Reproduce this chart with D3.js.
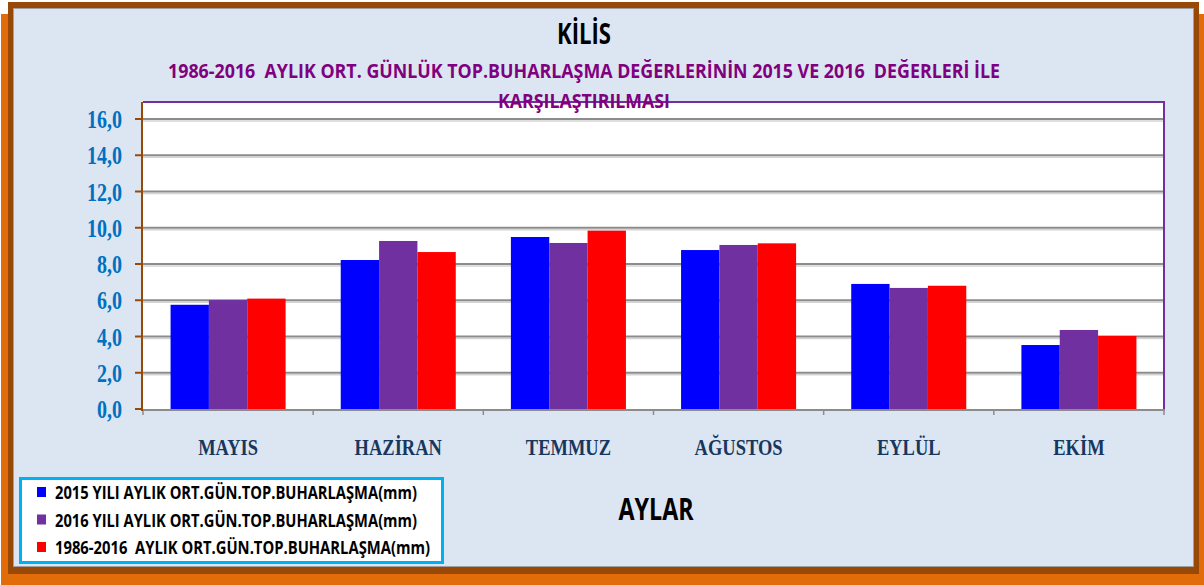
<!DOCTYPE html>
<html>
<head>
<meta charset="utf-8">
<script src="https://cdn.jsdelivr.net/npm/d3@7"></script>
<style>
  html, body { margin: 0; padding: 0; background: #ffffff; }
  svg { display: block; }
</style>
</head>
<body>
<div id="chart"></div>
<script>
// Aylar ve seriler
const months = ['MAYIS', 'HAZİRAN', 'TEMMUZ', 'AĞUSTOS', 'EYLÜL', 'EKİM'];
const seriesNames = [
    '2015 YILI AYLIK ORT.GÜN.TOP.BUHARLAŞMA(mm)',
    '2016 YILI AYLIK ORT.GÜN.TOP.BUHARLAŞMA(mm)',
    '1986-2016  AYLIK ORT.GÜN.TOP.BUHARLAŞMA(mm)'
];
const values2015 = [5.75, 8.22, 9.49, 8.77, 6.90, 3.53];
const values2016 = [6.01, 9.27, 9.16, 9.05, 6.68, 4.36];
const valuesAvg = [6.09, 8.66, 9.84, 9.14, 6.80, 4.03];
const yTicks = [0, 2, 4, 6, 8, 10, 12, 14, 16];
const seriesColors = ['#0000ff', '#7030a0', '#ff0000'];

const width = 1204;
const height = 585;
const plot = {left: 143, right: 1164, top: 102, bottom: 409};

const svg = d3.select('#chart')
    .append('svg')
    .attr('width', width)
    .attr('height', height);

// Çerçeve (turuncu gölge + kahverengi kenar + açık mavi panel)
svg.append('rect')
    .attr('x', 1).attr('y', 14)
    .attr('width', 1203).attr('height', 571)
    .attr('fill', '#e36c0a');
svg.append('rect')
    .attr('x', 8).attr('y', 2)
    .attr('width', 1191).attr('height', 572)
    .attr('fill', '#984807');
svg.append('rect')
    .attr('x', 13.5).attr('y', 8.5)
    .attr('width', 1180).attr('height', 558)
    .attr('fill', '#dce6f2')
    .attr('stroke', '#a0a0a0')
    .attr('stroke-width', 1);

// Çizim alanı
svg.append('rect')
    .attr('x', plot.left).attr('y', plot.top)
    .attr('width', plot.right - plot.left).attr('height', plot.bottom - plot.top)
    .attr('fill', '#ffffff');

const x0 = d3.scaleBand()
    .domain(months)
    .range([plot.left, plot.right])
    .paddingInner(0.324)
    .paddingOuter(0.162);

const x1 = d3.scaleBand()
    .domain([0, 1, 2])
    .range([0, x0.bandwidth()]);

const y = d3.scaleLinear()
    .domain([0, 16])
    .range([plot.bottom, plot.bottom - 290]);

// Izgara çizgileri
yTicks.filter(t => t > 0).forEach(t => {
    svg.append('line')
        .attr('x1', plot.left).attr('x2', plot.right)
        .attr('y1', y(t) + 2).attr('y2', y(t) + 2)
        .attr('stroke', '#d4d4d4')
        .attr('stroke-width', 1.5);
    svg.append('line')
        .attr('x1', plot.left).attr('x2', plot.right)
        .attr('y1', y(t)).attr('y2', y(t))
        .attr('stroke', '#8c8c8c')
        .attr('stroke-width', 2);
});

// Sütunlar
const allSeries = [values2015, values2016, valuesAvg];
months.forEach((m, i) => {
    const g = svg.append('g')
        .attr('transform', `translate(${x0(m)},0)`);
    allSeries.forEach((vals, s) => {
        g.append('rect')
            .attr('x', x1(s))
            .attr('y', y(vals[i]))
            .attr('width', x1.bandwidth())
            .attr('height', y(0) - y(vals[i]))
            .attr('fill', seriesColors[s]);
    });
});

// Çizim alanı kenarı (üst ve sağ mor)
svg.append('line')
    .attr('x1', plot.left).attr('x2', plot.right + 1)
    .attr('y1', plot.top).attr('y2', plot.top)
    .attr('stroke', '#7030a0').attr('stroke-width', 2);
svg.append('line')
    .attr('x1', plot.right).attr('x2', plot.right)
    .attr('y1', plot.top).attr('y2', plot.bottom)
    .attr('stroke', '#7030a0').attr('stroke-width', 2);

// X ekseni
svg.append('line')
    .attr('x1', plot.left).attr('x2', plot.right + 1)
    .attr('y1', plot.bottom + 1).attr('y2', plot.bottom + 1)
    .attr('stroke', '#8c8c8c').attr('stroke-width', 2);
const boundaries = months.map(m => x0(m) - x0.step() * 0.162)
    .concat([plot.right]);
boundaries.forEach(b => {
    svg.append('line')
        .attr('x1', b).attr('x2', b)
        .attr('y1', plot.bottom).attr('y2', plot.bottom + 6)
        .attr('stroke', '#8c8c8c').attr('stroke-width', 1.5);
});

// Y ekseni
svg.append('line')
    .attr('x1', plot.left - 1).attr('x2', plot.left - 1)
    .attr('y1', plot.top).attr('y2', plot.bottom + 2)
    .attr('stroke', '#984807').attr('stroke-width', 2);
yTicks.forEach(t => {
    svg.append('line')
        .attr('x1', plot.left - 8).attr('x2', plot.left - 1)
        .attr('y1', y(t)).attr('y2', y(t))
        .attr('stroke', '#984807').attr('stroke-width', 2);
});

// Sıkıştırılmış yazı için yardımcı
function squeeze(sel, factor) {
    sel.each(function() {
        const w = this.getComputedTextLength();
        d3.select(this)
            .attr('textLength', w * factor)
            .attr('lengthAdjust', 'spacingAndGlyphs');
    });
}

const yLabels = svg.selectAll('text.ylab')
    .data(yTicks)
    .enter()
    .append('text')
    .attr('class', 'ylab')
    .attr('x', 122)
    .attr('y', d => y(d) + 9)
    .attr('text-anchor', 'end')
    .attr('fill', '#0070c0')
    .style('font-family', '"Liberation Serif", "DejaVu Serif", serif')
    .style('font-weight', 'bold')
    .style('font-size', '26px')
    .text(d => d3.format('.1f')(d).replace('.', ','));
squeeze(yLabels, 0.77);

const xLabels = svg.selectAll('text.xlab')
    .data(months)
    .enter()
    .append('text')
    .attr('class', 'xlab')
    .attr('x', d => x0(d) + x0.bandwidth() / 2)
    .attr('y', 455)
    .attr('text-anchor', 'middle')
    .attr('fill', '#17375e')
    .style('font-family', '"Liberation Serif", "DejaVu Serif", serif')
    .style('font-weight', 'bold')
    .style('font-size', '24px')
    .text(d => d);
squeeze(xLabels, 0.77);

// Başlıklar
const sansFont = '"Liberation Sans Narrow", "Open Sans", "Liberation Sans", sans-serif';

svg.append('text')
    .attr('x', 584).attr('y', 44)
    .attr('text-anchor', 'middle')
    .attr('fill', '#000000')
    .attr('textLength', 54)
    .attr('lengthAdjust', 'spacingAndGlyphs')
    .style('font-family', sansFont)
    .style('font-weight', 'bold')
    .style('font-size', '29px')
    .text('KİLİS');

svg.append('text')
    .attr('x', 168).attr('y', 78)
    .attr('fill', '#800080')
    .attr('textLength', 832)
    .attr('lengthAdjust', 'spacingAndGlyphs')
    .style('font-family', sansFont)
    .style('font-weight', 'bold')
    .style('font-size', '20px')
    .style('white-space', 'pre')
    .text('1986-2016  AYLIK ORT. GÜNLÜK TOP.BUHARLAŞMA DEĞERLERİNİN 2015 VE 2016  DEĞERLERİ İLE');

svg.append('text')
    .attr('x', 584).attr('y', 108)
    .attr('text-anchor', 'middle')
    .attr('fill', '#800080')
    .attr('textLength', 172)
    .attr('lengthAdjust', 'spacingAndGlyphs')
    .style('font-family', sansFont)
    .style('font-weight', 'bold')
    .style('font-size', '20px')
    .text('KARŞILAŞTIRILMASI');

svg.append('text')
    .attr('x', 656).attr('y', 520)
    .attr('text-anchor', 'middle')
    .attr('fill', '#000000')
    .attr('textLength', 75)
    .attr('lengthAdjust', 'spacingAndGlyphs')
    .style('font-family', sansFont)
    .style('font-weight', 'bold')
    .style('font-size', '31px')
    .text('AYLAR');

// Lejant
svg.append('rect')
    .attr('x', 20.5).attr('y', 478.5)
    .attr('width', 422).attr('height', 84)
    .attr('fill', '#ffffff')
    .attr('stroke', '#00b0f0')
    .attr('stroke-width', 3);

const legendWidths = [362, 362, 375];
seriesNames.forEach((name, i) => {
    const base = 499 + i * 27.5;
    svg.append('rect')
        .attr('x', 37).attr('y', base - 12)
        .attr('width', 9).attr('height', 10)
        .attr('fill', seriesColors[i]);
    svg.append('text')
        .attr('x', 55).attr('y', base)
        .attr('fill', '#000000')
        .attr('textLength', legendWidths[i])
        .attr('lengthAdjust', 'spacingAndGlyphs')
        .style('font-family', sansFont)
        .style('font-weight', 'bold')
        .style('font-size', '17px')
        .style('white-space', 'pre')
        .text(name);
});
</script>
</body>
</html>
